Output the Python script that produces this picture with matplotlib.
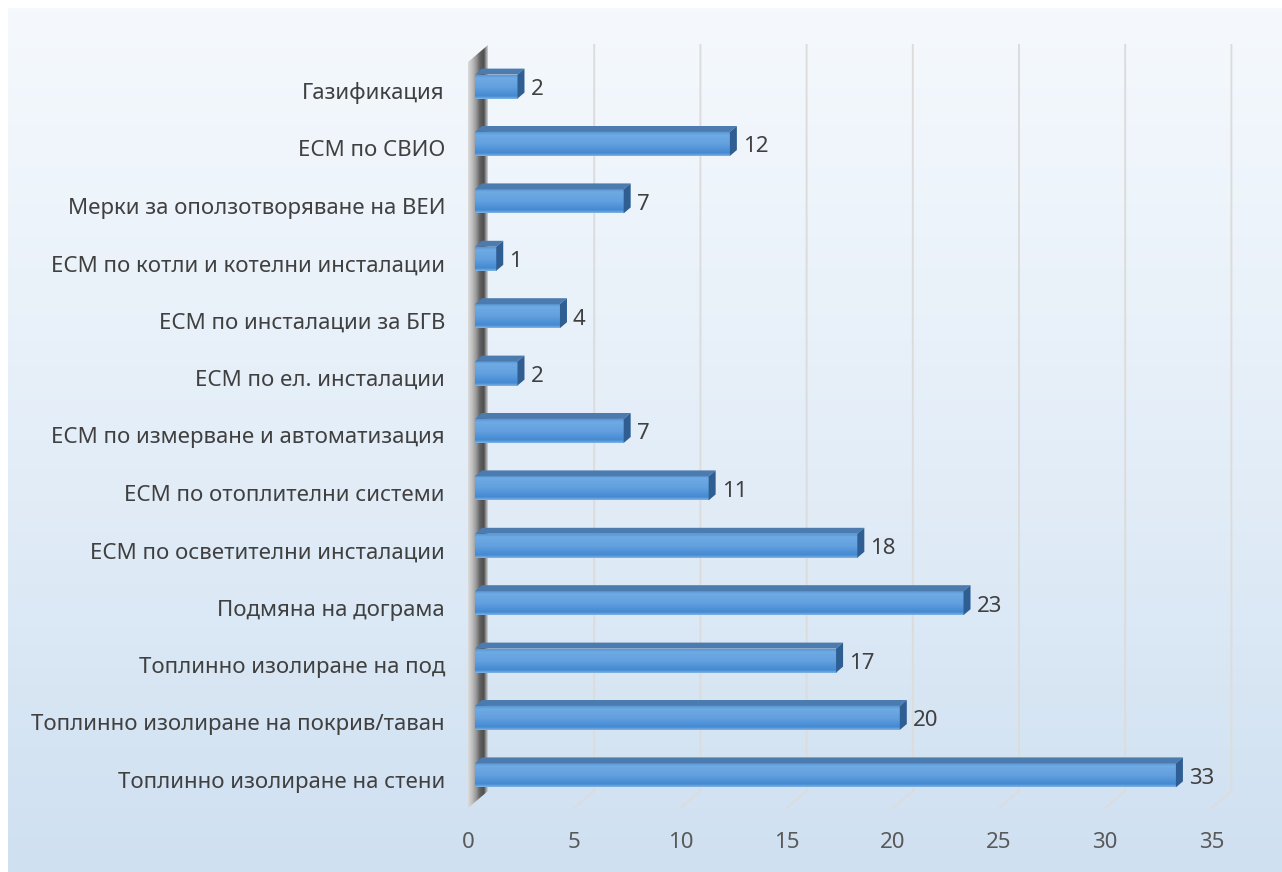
import numpy as np
import matplotlib.pyplot as plt
from matplotlib.patches import Polygon
from matplotlib.colors import LinearSegmentedColormap


categories = ["Газификация", "ЕСМ по СВИО", "Мерки за оползотворяване на ВЕИ",
              "ЕСМ по котли и котелни инсталации", "ЕСМ по инсталации за БГВ",
              "ЕСМ по ел. инсталации", "ЕСМ по измерване и автоматизация",
              "ЕСМ по отоплителни системи", "ЕСМ по осветителни инсталации",
              "Подмяна на дограма", "Топлинно изолиране на под",
              "Топлинно изолиране на покрив/таван", "Топлинно изолиране на стени"]
values = [2, 12, 7, 1, 4, 2, 7, 11, 18, 23, 17, 20, 33]
ticks = [0, 5, 10, 15, 20, 25, 30, 35]

plt.rcParams['font.family'] = ['Noto Sans', 'DejaVu Sans']

W, H = 1282, 872
PX_UNIT = 21.24      # pixels per value unit
PX_ROW = 57.4        # pixels per category row
X0 = 468             # pixel x of value 0 on the front plane
Y0 = 92.5            # pixel y of row 0 on the front plane
DX = 20 / PX_UNIT    # full depth offset (value units)
DY = 17 / PX_ROW     # full depth offset (row units)


def row(py):
    return (py - Y0) / PX_ROW


def val(px):
    return (px - X0) / PX_UNIT


def P(v, r, d):
    return (v + d * DX, r - d * DY)


fig = plt.figure(figsize=(W / 100, H / 100), dpi=100)
ax = fig.add_axes([0, 0, 1, 1])
ax.axis("off")

# background gradient
bg = LinearSegmentedColormap.from_list("bg", ["#f5f9fd", "#e4eef8", "#cfe0f1"])
ax.imshow(np.linspace(0, 1, 256).reshape(-1, 1), cmap=bg, aspect="auto",
          extent=(val(8), val(W), row(H), row(9)), zorder=0)

r_top = row(62)
r_floor = row(808)

# gridlines (back wall + floor)
for t in ticks[1:]:
    xs, ys = zip(P(t, r_top, 1), P(t, r_floor, 1), P(t, r_floor, 0))
    ax.plot(xs, ys, color="#dcdcdc", lw=1.4, zorder=1, solid_joinstyle="miter")

# side wall
wall_pts = [P(0, r_top, 0), P(0, r_top, 1), P(0, r_floor, 1), P(0, r_floor, 0)]
wall = Polygon(wall_pts, closed=True, facecolor="none", edgecolor="none")
ax.add_patch(wall)
wall_cm = LinearSegmentedColormap.from_list(
    "wall", ["#dadada", "#c0c0c0", "#9a9a9a", "#626262", "#4e4e4e", "#d0d0d0"])
im = ax.imshow(np.linspace(0, 1, 64).reshape(1, -1), cmap=wall_cm, aspect="auto",
               extent=(0, DX, r_floor, r_top - DY), zorder=2)
im.set_clip_path(wall)

# bars
h = 12 / PX_ROW
d0, d1 = 0.35, 0.7
face_cm = LinearSegmentedColormap.from_list(
    "face", [(0, "#5b97d4"), (0.12, "#6eaae3"), (0.5, "#62a0df"),
             (0.88, "#4489d2"), (1, "#80b2e2")])
for i, v in enumerate(values):
    x_l, y_t = P(0, i - h, d0)
    x_r, y_b = P(v, i + h, d0)
    ax.imshow(np.linspace(0, 1, 64).reshape(-1, 1), cmap=face_cm, aspect="auto",
              extent=(x_l, x_r, y_b, y_t), zorder=4)
    top = [P(0, i - h, d0), P(v, i - h, d0), P(v, i - h, d1), P(0, i - h, d1)]
    ax.add_patch(Polygon(top, closed=True, facecolor="#4c7bb0", edgecolor="none", zorder=4))
    side = [P(v, i - h, d0), P(v, i - h, d1), P(v, i + h, d1), P(v, i + h, d0)]
    ax.add_patch(Polygon(side, closed=True, facecolor="#2f5e93", edgecolor="none", zorder=4))

    lx, ly = P(v, i, d1)
    ax.text(lx + 6 / PX_UNIT, i - d0 * DY + 3 / PX_ROW, str(v), ha="left", va="center",
            fontsize=16, color="#404040", zorder=5)
    ax.text(val(445), i + 1 / PX_ROW, categories[i], ha="right", va="center",
            fontsize=16, color="#404040", zorder=5)

for t in ticks:
    ax.text(t, row(842), str(t), ha="center", va="center",
            fontsize=16, color="#595959", zorder=5)

ax.set_xlim(val(0), val(W))
ax.set_ylim(row(H), row(0))

fig.savefig("out.png", dpi=100, facecolor="white")
